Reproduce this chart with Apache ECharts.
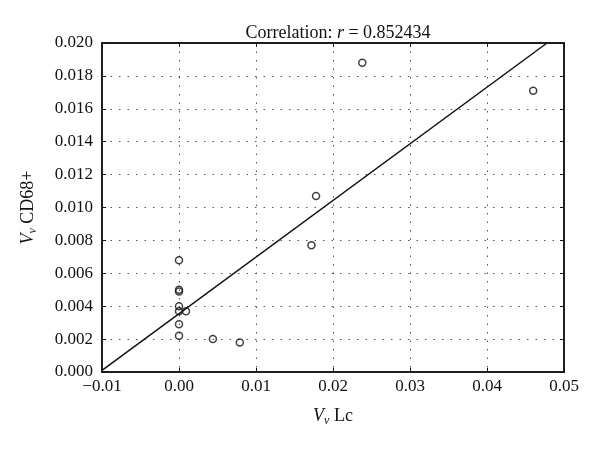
<!DOCTYPE html>
<html>
<head>
<meta charset="utf-8">
<script src="https://cdn.jsdelivr.net/npm/echarts@6/dist/echarts.min.js"></script>
<style>html,body{margin:0;padding:0;background:#fff}#c{width:600px;height:450px}</style>
</head>
<body>
<div id="c"></div>
<script>
// Observed data (x: Vv Lc, y: Vv CD68+)
const lcValues = [0.0238, 0.0460, 0.0178, 0.0172, 0.0000, 0.0000, 0.0000, 0.0000, 0.0000, 0.0009, 0.0000, 0.0000, 0.0044, 0.0079];
const cd68Values = [0.0188, 0.0171, 0.0107, 0.0077, 0.0068, 0.0050, 0.0049, 0.0040, 0.0037, 0.0037, 0.0029, 0.0022, 0.0020, 0.0018];
// Fitted line endpoints
const fitX = [-0.01, 0.0478];
const fitY = [0.0001, 0.0200];
const xTicks = [-0.01, 0.00, 0.01, 0.02, 0.03, 0.04, 0.05];
const yTicks = [0.000, 0.002, 0.004, 0.006, 0.008, 0.010, 0.012, 0.014, 0.016, 0.018, 0.020];
const titleText = 'Correlation: ';
const rValue = '0.852434';

const FONT = '"Liberation Serif", "DejaVu Serif", serif';
const points = lcValues.map((x, i) => [x, cd68Values[i]]);
const fitLine = fitX.map((x, i) => [x, fitY[i]]);

const chart = echarts.init(document.getElementById('c'), null, {renderer: 'canvas'});
const gridL = 102, gridR = 36, gridT = 43, gridB = 78;
const splitStyle = {show: true, lineStyle: {color: '#555', width: 1, type: [1.5, 7]}};
const nameRich = {
  i: {fontFamily: FONT, fontSize: 18, fontStyle: 'italic', color: '#111', lineHeight: 22},
  s: {fontFamily: FONT, fontSize: 12, fontStyle: 'italic', color: '#111', lineHeight: 12, verticalAlign: 'bottom'},
  a: {fontFamily: FONT, fontSize: 18, color: '#111', lineHeight: 22}
};
chart.setOption({
  animation: false,
  backgroundColor: '#fff',
  title: {
    text: '{a|' + titleText + '}{i|r}{a| = ' + rValue + '}',
    left: gridL + (600 - gridL - gridR) / 2,
    textAlign: 'center',
    top: 19,
    textStyle: {
      fontWeight: 'normal',
      rich: {
        a: {fontFamily: FONT, fontSize: 18, fontWeight: 'normal', color: '#111'},
        i: {fontFamily: FONT, fontSize: 18, fontWeight: 'normal', fontStyle: 'italic', color: '#111'}
      }
    }
  },
  grid: {left: gridL, right: gridR, top: gridT, bottom: gridB, show: true, borderColor: '#111', borderWidth: 1.5, backgroundColor: 'transparent'},
  xAxis: [{
    type: 'value', min: -0.01, max: 0.05, interval: 0.01,
    axisLine: {show: true, onZero: false, lineStyle: {color: '#111', width: 1.5}},
    axisTick: {show: true, inside: true, length: 4, lineStyle: {color: '#111'}},
    splitLine: splitStyle,
    axisLabel: {fontFamily: FONT, fontSize: 17, color: '#111', margin: 6,
      formatter: v => v.toFixed(2).replace('-', '\u2212')},
    name: '{i|V}{s|v}{a| Lc}',
    nameLocation: 'middle', nameGap: 33,
    nameTextStyle: {rich: nameRich}
  }, {
    type: 'value', position: 'top', min: -0.01, max: 0.05, interval: 0.01,
    axisLine: {show: true, onZero: false, lineStyle: {color: '#111', width: 1.5}},
    axisTick: {show: true, inside: true, length: 4, lineStyle: {color: '#111'}},
    axisLabel: {show: false}, splitLine: {show: false}
  }],
  yAxis: [{
    type: 'value', min: 0, max: 0.02, interval: 0.002,
    axisLine: {show: true, onZero: false, lineStyle: {color: '#111', width: 1.5}},
    axisTick: {show: true, inside: true, length: 4, lineStyle: {color: '#111'}},
    splitLine: splitStyle,
    axisLabel: {fontFamily: FONT, fontSize: 17, color: '#111', margin: 9,
      formatter: v => v.toFixed(3)},
    name: '{i|V}{s|v}{a| CD68+}',
    nameLocation: 'middle', nameGap: 63, nameRotate: 90,
    nameTextStyle: {rich: nameRich}
  }, {
    type: 'value', position: 'right', min: 0, max: 0.02, interval: 0.002,
    axisLine: {show: true, onZero: false, lineStyle: {color: '#111', width: 1.5}},
    axisTick: {show: true, inside: true, length: 4, lineStyle: {color: '#111'}},
    axisLabel: {show: false}, splitLine: {show: false}
  }],
  series: [{
    type: 'line', data: fitLine, showSymbol: false, symbol: 'none',
    lineStyle: {color: '#111', width: 1.5}, z: 3, silent: true
  }, {
    type: 'scatter', data: points, symbol: 'circle', symbolSize: 7,
    itemStyle: {color: 'rgba(255,255,255,0)', borderColor: '#111', borderWidth: 1.5}, z: 4
  }]
});
</script>
</body>
</html>
